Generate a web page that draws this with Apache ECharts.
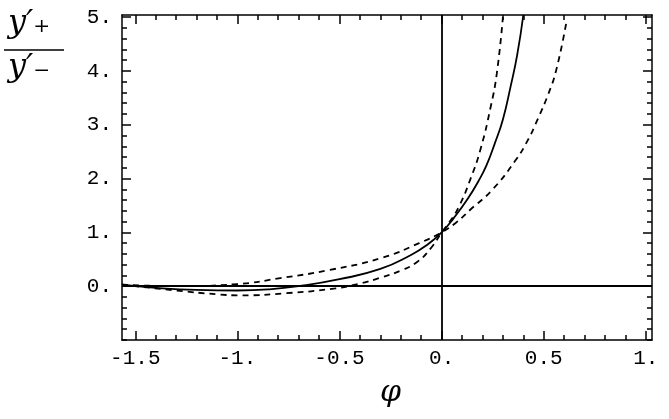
<!DOCTYPE html>
<html><head><meta charset="utf-8">
<script src="https://cdn.jsdelivr.net/npm/echarts@6/dist/echarts.min.js"></script>
<style>html,body{margin:0;padding:0;background:#fff}#c{width:669px;height:419px}</style>
</head><body><div id="c"></div>
<script>
const xMajor = [-1.5, -1, -0.5, 0, 0.5, 1];
const xLabels = ['-1.5', '-1.', '-0.5', '0.', '0.5', '1.'];
const yMajor = [0, 1, 2, 3, 4, 5];
const yLabels = ['0.', '1.', '2.', '3.', '4.', '5.'];
const solid = [[-1.565,0.03],[-1.4,-0.03],[-1.2,-0.07],[-1.0,-0.08],[-0.85,-0.06],[-0.7,0.0],[-0.5,0.13],[-0.3,0.32],[-0.15,0.58],[-0.07,0.77],[0,1.0],[0.06,1.27],[0.127,1.62],[0.18,1.95],[0.22,2.25],[0.26,2.65],[0.30,3.1],[0.337,3.7],[0.37,4.3],[0.40,5.04]];
const dashSteep = [[-1.565,0.03],[-1.3,-0.08],[-1.1,-0.15],[-0.98,-0.17],[-0.76,-0.13],[-0.52,-0.04],[-0.4,0.05],[-0.29,0.17],[-0.2,0.29],[-0.12,0.45],[-0.05,0.72],[0,1.0],[0.04,1.2],[0.085,1.48],[0.14,1.98],[0.19,2.54],[0.24,3.33],[0.27,3.95],[0.30,5.0]];
const dashShallow = [[-1.565,0.03],[-1.3,0.0],[-1.0,0.04],[-0.79,0.15],[-0.55,0.3],[-0.29,0.53],[-0.11,0.8],[0,1.0],[0.07,1.18],[0.14,1.42],[0.25,1.8],[0.36,2.33],[0.42,2.7],[0.47,3.1],[0.52,3.55],[0.56,4.0],[0.61,4.89]];
const xMinor = [], yMinor = [];
for (let i = -15; i <= 10; i++) xMinor.push(i / 10);
for (let i = -5; i <= 25; i++) yMinor.push(i / 5);

const font = 'Liberation Mono';
const grid = {left:122, right:17, top:15, bottom:79};
function xa(pos, labels, vals, len, show){
  return {type:'value', position:pos, min:-1.565, max:1.03, gridIndex:0,
    axisLine:{show:show, onZero:false, lineStyle:{color:'#000', width:1.5}}, splitLine:{show:false},
    axisTick:{show:true, inside:true, length:len, customValues:vals, lineStyle:{color:'#000', width:1.5}},
    axisLabel:{show:labels, customValues:xMajor, margin:8, color:'#000', fontFamily:font, fontSize:21,
      formatter:v=>{const i=xMajor.findIndex(m=>Math.abs(m-v)<1e-6);return i>=0?xLabels[i]:'';}}};
}
function ya(pos, labels, vals, len, show){
  return {type:'value', position:pos, min:-1, max:5.04, gridIndex:0,
    axisLine:{show:show, onZero:false, lineStyle:{color:'#000', width:1.5}}, splitLine:{show:false},
    axisTick:{show:true, inside:true, length:len, customValues:vals, lineStyle:{color:'#000', width:1.5}},
    axisLabel:{show:labels, customValues:yMajor, margin:10, color:'#000', fontFamily:font, fontSize:21,
      formatter:v=>{const i=yMajor.findIndex(m=>Math.abs(m-v)<1e-6);return i>=0?yLabels[i]:'';}}};
}
const chart = echarts.init(document.getElementById('c'));
const line = (d, type) => ({type:'line', data:d, smooth:0.5, showSymbol:false, xAxisIndex:0, yAxisIndex:0,
  lineStyle:{color:'#000', width:1.8, type:type}, clip:true});
chart.setOption({
  animation:false,
  grid:grid,
  xAxis:[xa('bottom', true, xMajor, 9, true), xa('top', false, xMajor, 9, true), xa('bottom', false, xMinor, 5, false), xa('top', false, xMinor, 5, false)],
  yAxis:[ya('left', true, yMajor, 9, true), ya('right', false, yMajor, 9, true), ya('left', false, yMinor, 5, false), ya('right', false, yMinor, 5, false)],
  series:[
    Object.assign(line(solid,'solid'), {markLine:{silent:true, symbol:'none', label:{show:false},
      lineStyle:{color:'#000', width:1.8, type:'solid'}, data:[{xAxis:0},{yAxis:0}]}}),
    line(dashSteep,[6,5]),
    line(dashShallow,[6,5])
  ],
  graphic:[
    {type:'text', left:8, top:8, style:{text:'y′₊', font:'italic 32px "DejaVu Serif"', fill:'#000'}},
    {type:'line', shape:{x1:4, y1:50, x2:64, y2:50}, style:{stroke:'#000', lineWidth:1.5}},
    {type:'text', left:8, top:52, style:{text:'y′₋', font:'italic 32px "DejaVu Serif"', fill:'#000'}},
    {type:'text', left:380, top:378, style:{text:'φ', font:'italic 30px "DejaVu Serif"', fill:'#000'}}
  ]
});
</script></body></html>
